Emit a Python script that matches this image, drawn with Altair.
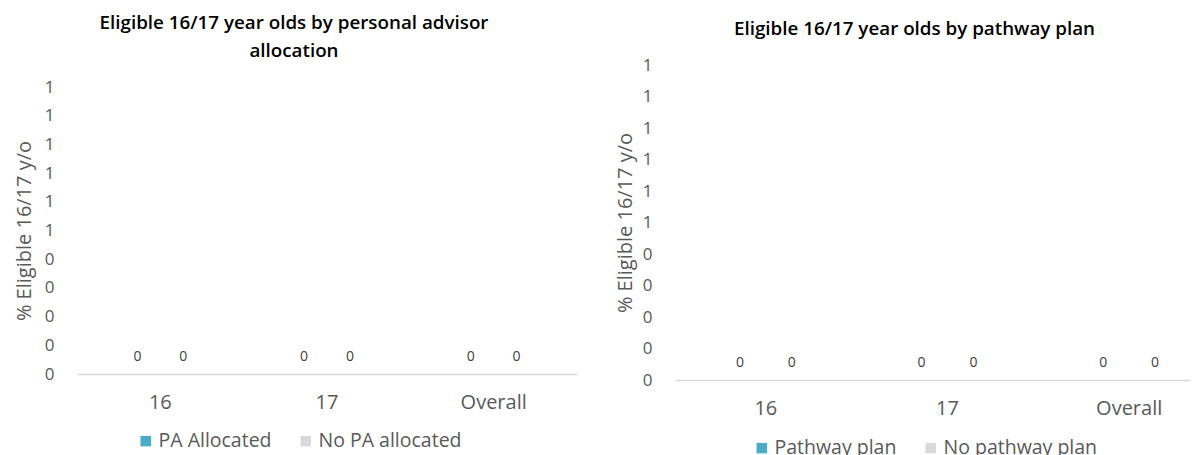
import altair as alt
import pandas as pd

FONT = "Open Sans"

categories = ["16", "17", "Overall"]

pa_series = ["PA Allocated", "No PA allocated"]
pa_allocated = [0, 0, 0]
no_pa_allocated = [0, 0, 0]

pw_series = ["Pathway plan", "No pathway plan"]
pathway_plan = [0, 0, 0]
no_pathway_plan = [0, 0, 0]

y_ticks = [0, 0.1, 0.2, 0.3, 0.4, 0.5, 0.6, 0.7, 0.8, 0.9, 1.0]
colors = ["#4BACC6", "#D9D9D9"]

y_title = "% Eligible 16/17 y/o"
left_title = ["Eligible 16/17 year olds by personal advisor", "allocation"]
right_title = "Eligible 16/17 year olds by pathway plan"


def make_df(series, a, b):
    rows = []
    for i, c in enumerate(categories):
        rows.append({"Age": c, "Series": series[0], "Value": a[i]})
        rows.append({"Age": c, "Series": series[1], "Value": b[i]})
    return pd.DataFrame(rows)


def panel(df, series, width, height, y_range, pad_inner, legend_x,
          legend_y, label_pad, title_pad):
    base = alt.Chart(df).encode(
        x=alt.X(
            "Age:N",
            sort=categories,
            scale=alt.Scale(paddingInner=pad_inner, paddingOuter=pad_inner / 2),
            axis=alt.Axis(
                title=None, labelAngle=0, domainColor="#D9D9D9", domainWidth=1.5,
                ticks=False, labelFontSize=20, labelColor="#595959",
                labelFont=FONT, labelPadding=18,
            ),
        ),
        xOffset=alt.XOffset("Series:N", sort=series, scale=alt.Scale(paddingInner=0)),
        y=alt.Y(
            "Value:Q",
            scale=alt.Scale(domain=[0, 1], nice=False, range=y_range),
            axis=alt.Axis(
                values=y_ticks, format=".0f", grid=False, domain=False, ticks=False,
                labelOverlap=False,
                labelFontSize=17, labelColor="#595959", labelFont=FONT,
                labelPadding=label_pad, title=y_title, titleFontSize=20,
                titleFontWeight="normal", titleColor="#595959", titleFont=FONT,
                titlePadding=title_pad,
            ),
        ),
    )
    bars = base.mark_bar().encode(
        color=alt.Color(
            "Series:N",
            sort=series,
            scale=alt.Scale(domain=series, range=colors),
            legend=alt.Legend(
                title=None, orient="none", direction="horizontal",
                legendX=legend_x, legendY=legend_y, symbolType="square",
                symbolSize=110, symbolStrokeWidth=0, labelFontSize=19.5,
                labelColor="#595959", labelFont=FONT, labelOffset=3,
                columnPadding=24,
            ),
        )
    )
    labels = base.mark_text(dy=-17, fontSize=14, color="#404040", font=FONT).encode(
        text=alt.Text("Value:Q", format=".0f")
    )
    return alt.layer(bars, labels).properties(width=width, height=height)


left = panel(make_df(pa_series, pa_allocated, no_pa_allocated), pa_series,
             500, 309, [309, 22], 0.45, 59, 366, 23, 10).properties(
    title=alt.TitleParams(
        text=left_title, fontSize=18.8, font=FONT, fontWeight=600,
        color="#000000", anchor="middle", dx=-33, lineHeight=28, offset=4,
    )
)

right = panel(make_df(pw_series, pathway_plan, no_pathway_plan), pw_series,
              545, 315, [315, 0], 0.43, 77, 373, 23, 7).properties(
    title=alt.TitleParams(
        text=right_title, fontSize=18.8, font=FONT, fontWeight=600,
        color="#000000", anchor="middle", dx=-33, offset=17,
    )
)

chart = alt.concat(left, right, columns=2, spacing=38).resolve_scale(
    color="independent", x="independent", y="independent", xOffset="independent"
).properties(
    padding={"left": 6, "top": 6, "right": -30, "bottom": -2},
    background="white",
).configure_view(stroke=None)

chart.save("out.html", embed_options={"renderer": "svg", "actions": False})
